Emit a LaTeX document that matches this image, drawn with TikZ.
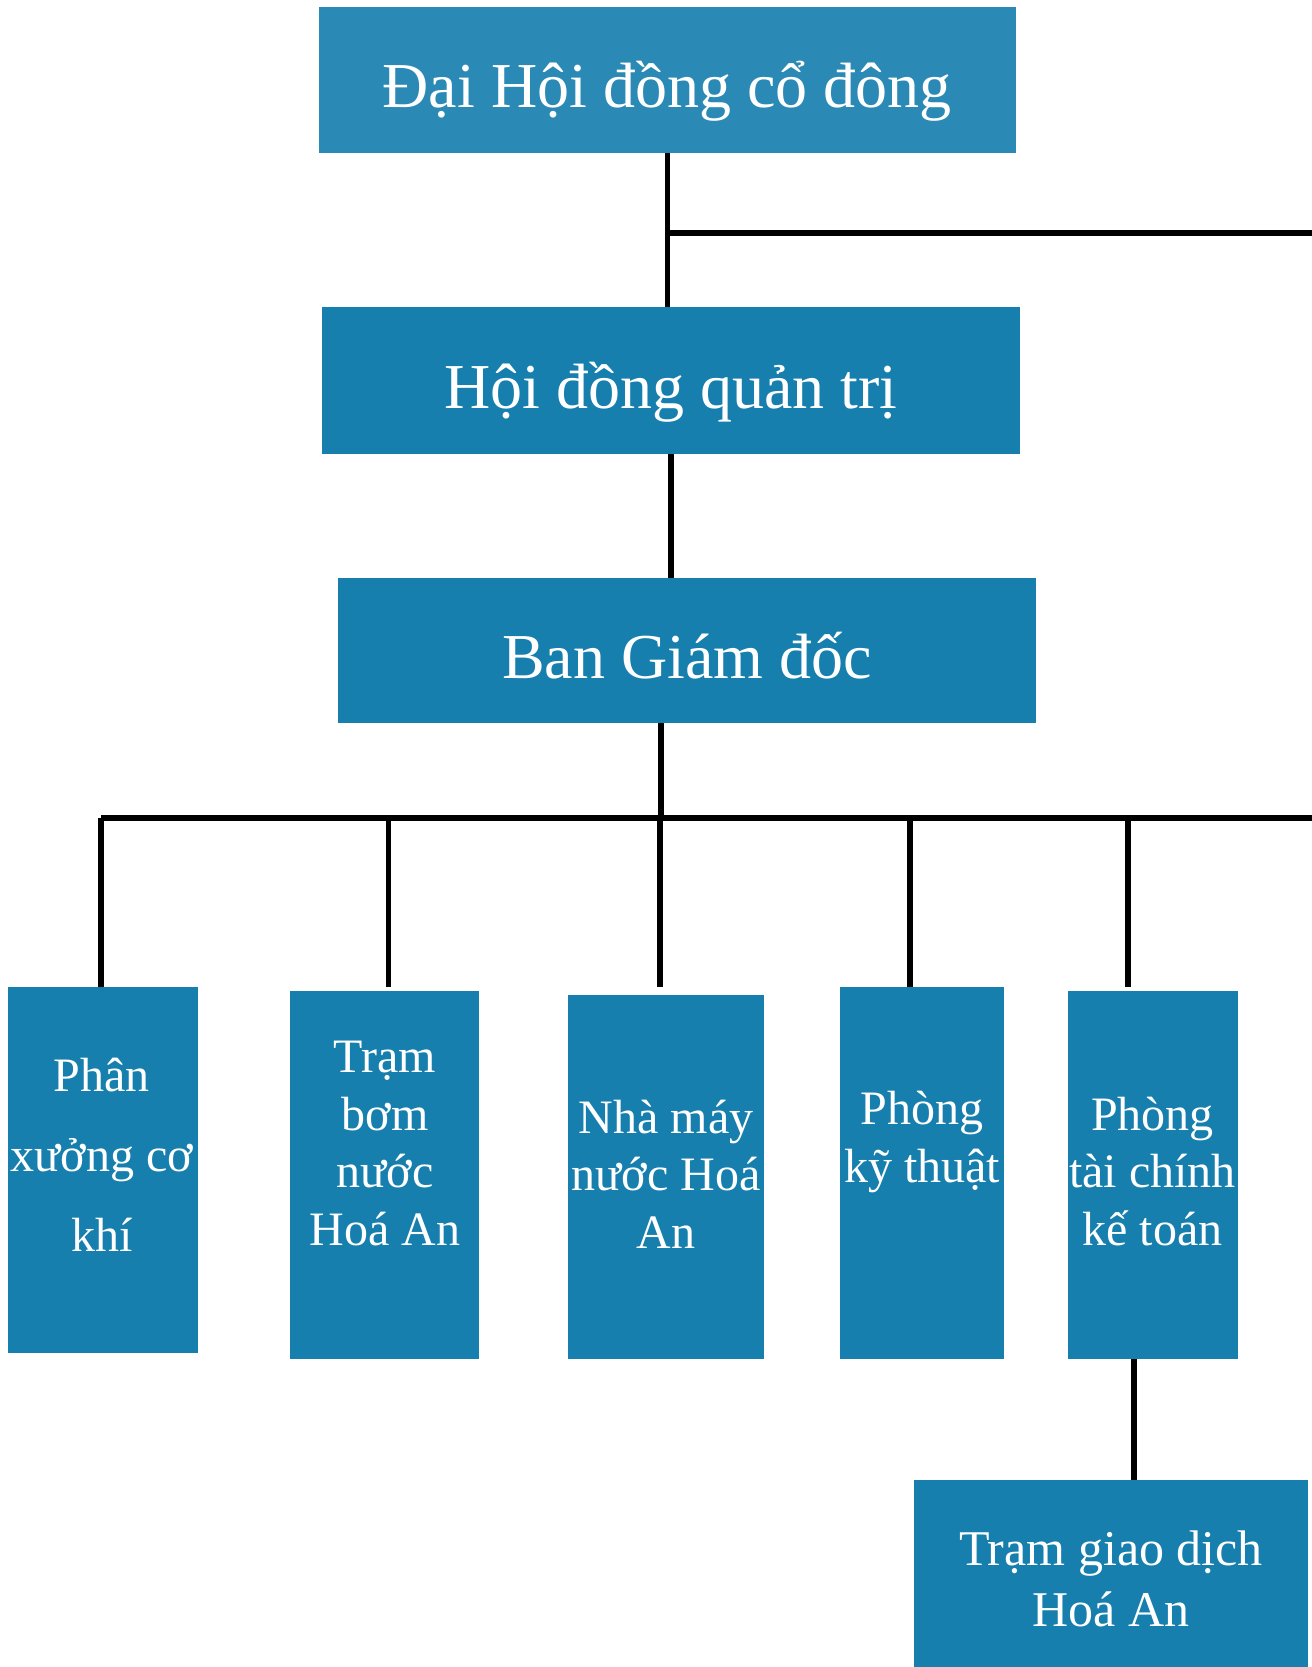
\documentclass[tikz,border=0pt]{standalone}
\usepackage{fontspec}
\setmainfont{Liberation Serif}
\usepackage{xcolor}
\definecolor{topblue}{RGB}{43,138,181}
\definecolor{orgblue}{RGB}{22,127,174}

\begin{document}
\begin{tikzpicture}[x=0.5pt,y=-0.5pt,
  box/.style={fill=orgblue, inner sep=0pt},
  txt/.style={text=white, align=center, anchor=base, inner sep=0pt},
  big/.style={font=\fontsize{32}{38}\selectfont},
  small/.style={font=\fontsize{24}{28.7}\selectfont},
  conn/.style={line width=2.7pt}]

\useasboundingbox (0,0) rectangle (1312,1667);

% top levels
\node[box, fill=topblue, minimum width=348.5pt, minimum height=73pt] (dhcd) at (667.5,80) {};
\node[box, minimum width=349pt, minimum height=73.5pt] (hdqt) at (671,380.5) {};
\node[box, minimum width=349pt, minimum height=72.5pt] (bgd) at (687,650.5) {};

\node[txt, big] (dhcdT) at (667,107) {Đại Hội đồng cổ đông};
\node[txt, big] (hdqtT) at (671,408) {Hội đồng quản trị};
\node[txt, big] (bgdT) at (687,678) {Ban Giám đốc};

% departments
\node[box, minimum width=95pt, minimum height=183pt] (px) at (103,1170) {};
\node[box, minimum width=94.5pt, minimum height=184pt] (tb) at (384.5,1175) {};
\node[box, minimum width=98pt, minimum height=182pt] (nm) at (666,1177) {};
\node[box, minimum width=82pt, minimum height=186pt] (kt) at (922,1173) {};
\node[box, minimum width=85pt, minimum height=184pt] (tck) at (1153,1175) {};
\node[box, minimum width=197pt, minimum height=93.5pt] (tgd) at (1111,1573.5) {};

% text nodes sit on the baseline of their last line
\node[txt, font=\fontsize{24}{40}\selectfont] (pxT) at (102,1251) {Phân\\xưởng cơ\\khí};
\node[txt, small] (tbT) at (385,1245) {Trạm\\bơm\\nước\\Hoá An};
\node[txt, small] (nmT) at (666,1248) {Nhà máy\\nước Hoá\\An};
\node[txt, small] (ktT) at (922,1182) {Phòng\\kỹ thuật};
\node[txt, small] (tckT) at (1152.5,1245) {Phòng\\tài chính\\kế toán};
\node[txt, font=\fontsize{25}{30.5}\selectfont] (tgdT) at (1111,1626) {Trạm giao dịch\\Hoá An};

% connectors
\coordinate (side) at (1312,233);
\coordinate (busL) at (101,818);
\coordinate (busR) at (1312,818);

\draw[conn] (dhcd.south) -- (dhcd.south |- hdqt.north);
\draw[conn] (dhcd.south |- side) -- (side);
\draw[conn] (hdqt.south) -- (hdqt.south |- bgd.north);
\draw[conn] ([xshift=-13pt]bgd.south) -- ([xshift=-13pt]bgd.south |- busL);
\draw[conn] (busL) -- (busR);

\draw[conn] (busL) -- (busL |- px.north);
\draw[conn] ([xshift=2pt]tb.north |- busL) -- ([xshift=2pt,yshift=2pt]tb.north);
\draw[conn] ([xshift=-3pt]nm.north |- busL) -- ([xshift=-3pt,yshift=4pt]nm.north);
\draw[conn] ([xshift=-6pt]kt.north |- busL) -- ([xshift=-6pt]kt.north);
\draw[conn] ([xshift=-12.5pt]tck.north |- busL) -- ([xshift=-12.5pt,yshift=2pt]tck.north);

\draw[conn] ([xshift=-9.5pt]tck.south) -- ([xshift=-9.5pt]tck.south |- tgd.north);

\end{tikzpicture}
\end{document}
